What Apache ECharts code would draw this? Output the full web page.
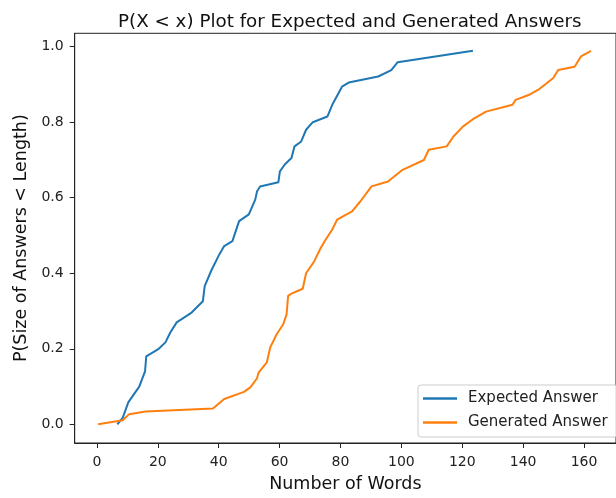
<!DOCTYPE html>
<html>
<head>
<meta charset="utf-8">
<script src="https://cdn.jsdelivr.net/npm/echarts@6/dist/echarts.min.js"></script>
<style>
  html, body { margin: 0; padding: 0; background: #fff; }
  #chart { width: 616px; height: 498px; }
</style>
</head>
<body>
<div id="chart"></div>
<script>
// cdf points
var expX = [6.7, 8.5, 10.3, 13.9, 15.8, 16.2, 20.3, 22.5, 24.1, 26.2, 31.1, 34.8, 35.4, 37.5, 40.2, 41.8, 44.5, 46.7, 49.9, 52.0, 52.6, 53.6, 59.6, 60.1, 61.7, 63.9, 64.9, 67.1, 68.7, 70.9, 75.7, 77.3, 80.5, 82.7, 92.4, 96.7, 98.8, 123.5];
var expY = [0.00, 0.018, 0.058, 0.10, 0.14, 0.18, 0.20, 0.217, 0.243, 0.27, 0.296, 0.326, 0.366, 0.406, 0.45, 0.472, 0.485, 0.538, 0.556, 0.595, 0.617, 0.63, 0.641, 0.67, 0.688, 0.705, 0.736, 0.749, 0.78, 0.80, 0.815, 0.846, 0.894, 0.905, 0.921, 0.938, 0.959, 0.989];

var genX = [0.4, 8.5, 10.6, 16.0, 38.1, 41.8, 48.3, 50.4, 52.6, 53.1, 55.8, 56.9, 59.0, 61.2, 62.3, 62.8, 63.9, 67.6, 68.7, 71.4, 73.5, 75.2, 77.3, 78.9, 83.8, 86.5, 90.2, 95.6, 100.4, 107.4, 109.0, 114.9, 117.1, 120.3, 123.5, 127.8, 136.5, 137.5, 141.8, 145.0, 149.9, 151.5, 156.9, 159.0, 162.3];
var genY = [0.0, 0.011, 0.027, 0.034, 0.042, 0.067, 0.086, 0.098, 0.122, 0.137, 0.164, 0.203, 0.238, 0.265, 0.291, 0.34, 0.346, 0.359, 0.40, 0.432, 0.467, 0.49, 0.516, 0.542, 0.564, 0.59, 0.63, 0.643, 0.674, 0.70, 0.727, 0.736, 0.762, 0.789, 0.808, 0.828, 0.846, 0.859, 0.872, 0.886, 0.917, 0.938, 0.947, 0.974, 0.989];

var xTicks = [0, 20, 40, 60, 80, 100, 120, 140, 160];
var yTicks = [0, 0.2, 0.4, 0.6, 0.8, 1.0];

function pairs(xs, ys) {
  return xs.map(function (x, i) { return [x, ys[i]]; });
}

var font = 'DejaVu Sans';
var chart = echarts.init(document.getElementById('chart'));

chart.setOption({
  animation: false,
  title: {
    text: 'P(X < x) Plot for Expected and Generated Answers',
    left: 113, top: 8,
    textStyle: { fontFamily: font, fontSize: 18.3, fontWeight: 'normal', color: '#111' }
  },
  grid: {
    left: 74.7, top: 33.3, right: -10.8, bottom: 54,
    show: true, borderColor: '#222', borderWidth: 1
  },
  legend: {
    left: 418, top: 385, orient: 'vertical',
    padding: [6, 10, 7, 5], itemGap: 9,
    itemWidth: 34, itemHeight: 2.5, icon: 'rect',
    borderColor: '#ccc', borderWidth: 1, borderRadius: 3,
    backgroundColor: 'rgba(255,255,255,0.8)',
    textStyle: { fontFamily: font, fontSize: 15, color: '#222', padding: [0, 0, 0, 6] },
    data: ['Expected Answer', 'Generated Answer']
  },
  xAxis: {
    type: 'value', min: -7.3, max: 170.5,
    name: 'Number of Words', nameLocation: 'middle', nameGap: 32,
    nameTextStyle: { fontFamily: font, fontSize: 17.5, color: '#111' },
    splitLine: { show: false },
    axisLine: { onZero: false, lineStyle: { color: '#222', width: 1 } },
    axisTick: { length: 5, lineStyle: { color: '#222' }, customValues: xTicks },
    axisLabel: { fontFamily: font, fontSize: 14, color: '#222', margin: 12, customValues: xTicks }
  },
  yAxis: {
    type: 'value', min: -0.0494, max: 1.0354,
    name: 'P(Size of Answers < Length)', nameLocation: 'middle', nameGap: 44,
    nameTextStyle: { fontFamily: font, fontSize: 17.5, color: '#111' },
    splitLine: { show: false },
    axisLine: { show: true, onZero: false, lineStyle: { color: '#222', width: 1 } },
    axisTick: { show: true, length: 5, lineStyle: { color: '#222' }, customValues: yTicks },
    axisLabel: {
      fontFamily: font, fontSize: 14, color: '#222', margin: 11, customValues: yTicks,
      formatter: function (v) { return v.toFixed(1); }
    }
  },
  series: [
    {
      name: 'Expected Answer', type: 'line', showSymbol: false,
      color: '#1f77b4', lineStyle: { width: 2 },
      data: pairs(expX, expY)
    },
    {
      name: 'Generated Answer', type: 'line', showSymbol: false,
      color: '#ff7f0e', lineStyle: { width: 2 },
      data: pairs(genX, genY)
    }
  ]
});
</script>
</body>
</html>
